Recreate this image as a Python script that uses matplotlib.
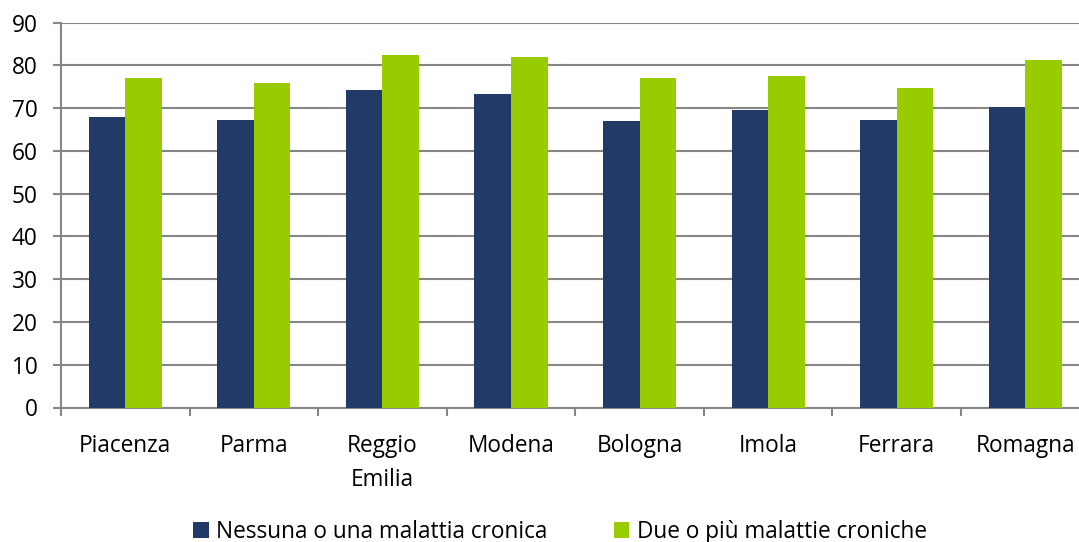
import numpy as np
import matplotlib
matplotlib.use("Agg")
import matplotlib.pyplot as plt
from matplotlib.ticker import MultipleLocator, FixedLocator

plt.rcParams['font.family'] = ['Open Sans', 'DejaVu Sans']

aziende = ['Piacenza', 'Parma', 'Reggio\nEmilia', 'Modena', 'Bologna',
           'Imola', 'Ferrara', 'Romagna']
nessuna_una = [67.9, 67.2, 74.2, 73.4, 67.1, 69.5, 67.2, 70.4]
due_o_piu = [77.1, 75.9, 82.4, 82.0, 77.1, 77.5, 74.7, 81.3]

blu = '#213A66'
verde = '#99CC00'
grigio = '#868686'
fs = 16.3

fig = plt.figure(figsize=(10.79, 5.42), dpi=100)
ax = fig.add_axes([61 / 1079, (542 - 407.5) / 542, 1 - 61 / 1079, (407.5 - 22.7) / 542])

x = np.arange(len(aziende))
w = 0.284
ax.bar(x - w / 2, nessuna_una, w, color=blu, zorder=3,
       label='Nessuna o una malattia cronica')
ax.bar(x + w / 2, due_o_piu, w, color=verde, zorder=3,
       label='Due o più malattie croniche')

ax.set_ylim(0, 90)
ax.set_xlim(-0.5, 7.418)
ax.yaxis.set_major_locator(MultipleLocator(10))
ax.grid(axis='y', color=grigio, linewidth=1.5, zorder=0)

for s in ['top', 'right']:
    ax.spines[s].set_visible(False)
for s in ['left', 'bottom']:
    ax.spines[s].set_color(grigio)
    ax.spines[s].set_linewidth(1.5)

ax.tick_params(axis='y', length=6, width=1.5, color=grigio, pad=11,
               labelsize=fs, labelcolor='black')

# etichette al centro, tacche tra le categorie
ax.set_xticks(x)
ax.set_xticklabels(aziende, fontsize=fs, linespacing=1.55)
ax.tick_params(axis='x', which='major', length=0, pad=19)
ax.xaxis.set_minor_locator(FixedLocator(np.arange(-0.5, 8, 1.0)))
ax.tick_params(axis='x', which='minor', length=6, width=1.5, color=grigio)

fig.legend(loc='center', bbox_to_anchor=(0.519, 0.019), ncol=2, frameon=False,
           fontsize=fs, handlelength=0.68, handleheight=0.68,
           handletextpad=0.35, columnspacing=2.9)

fig.savefig('out.png', dpi=100)
